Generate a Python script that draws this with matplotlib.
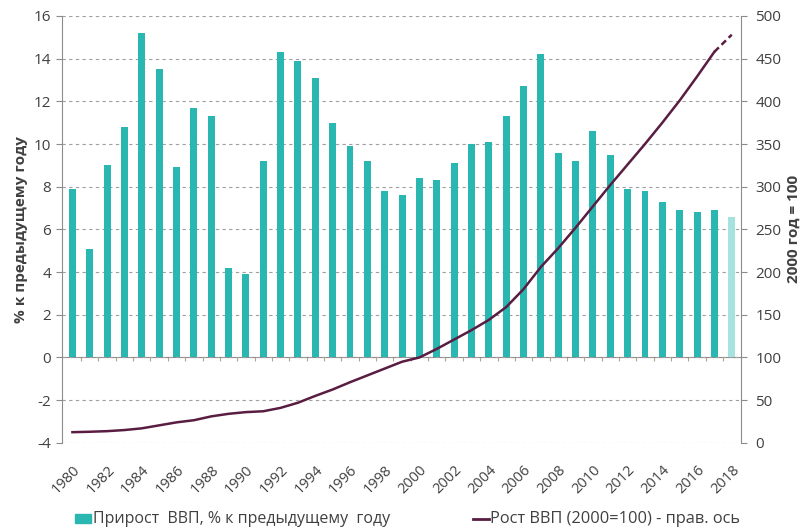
import matplotlib.pyplot as plt
import numpy as np

years = list(range(1980, 2019))
growth = [7.9, 5.1, 9.0, 10.8, 15.2, 13.5, 8.9, 11.7, 11.3, 4.2,
          3.9, 9.2, 14.3, 13.9, 13.1, 11.0, 9.9, 9.2, 7.8, 7.6,
          8.4, 8.3, 9.1, 10.0, 10.1, 11.3, 12.7, 14.2, 9.6, 9.2,
          10.6, 9.5, 7.9, 7.8, 7.3, 6.9, 6.8, 6.9, 6.6]
index = [12.5, 13, 13.7, 15, 17, 20.5, 24, 26.5, 31, 34,
         36, 37, 41, 47, 55, 62.5, 71, 79, 87, 95,
         100, 110, 121, 132, 144, 159, 180, 206, 228, 252,
         277, 302, 326, 350, 375, 401, 429, 458, 478]

teal = '#2ab7b1'
teal_light = '#a6e3df'
wine = '#5a1d42'
grey = '#8c8c8c'
txt = '#404040'

plt.rcParams['font.family'] = ['Open Sans', 'DejaVu Sans']
plt.rcParams['axes.unicode_minus'] = False

fig = plt.figure(figsize=(8.02, 5.31), dpi=100)
ax = fig.add_axes([0.0773, 0.166, 0.847, 0.804])

x = np.arange(len(years))
colors = [teal] * (len(years) - 1) + [teal_light]
ax.bar(x, growth, width=0.4, color=colors, zorder=2)

ax.set_ylim(-4, 16)
ax.set_yticks(range(-4, 17, 2))
ax.set_xlim(-0.6, len(years) - 0.45)
ax.yaxis.grid(True, linestyle=(0, (3, 3)), color='#a0a0a0', linewidth=0.8, zorder=0)

for s in ['top', 'bottom']:
    ax.spines[s].set_visible(False)
ax.spines['left'].set_color(grey)
ax.spines['right'].set_visible(False)

ax.set_xticks(x[::2])
ax.set_xticklabels([str(y) for y in years[::2]], rotation=45, ha='right',
                   rotation_mode='anchor', fontsize=10.5, color=txt)
ax.tick_params(axis='x', length=0, pad=14)
ax.tick_params(axis='y', length=4, color=grey, labelsize=11, labelcolor=txt, pad=4)

# axis line at zero with ticks between bars
sec = ax.secondary_xaxis(0.2)
sec.set_xticks(x[:-1] + 0.5)
sec.set_xticklabels([])
sec.tick_params(length=3, color='#c0a080')
sec.spines['bottom'].set_color(grey)

ax2 = ax.twinx()
ax2.set_ylim(0, 500)
ax2.set_yticks(range(0, 501, 50))
ax2.plot(x[:-1], index[:-1], color=wine, linewidth=1.8, zorder=3)
ax2.plot(x[-2:], index[-2:], color=wine, linewidth=1.8, linestyle=(0, (2.5, 1.5)), zorder=3)
for s in ['top', 'bottom', 'left']:
    ax2.spines[s].set_visible(False)
ax2.spines['right'].set_color(grey)
ax2.tick_params(axis='y', length=4, color=grey, labelsize=11, labelcolor=txt, pad=6)

ax.set_ylabel('% к предыдущему году', fontsize=11, fontweight='bold', color=txt, labelpad=4)
ax2.set_ylabel('2000 год = 100', fontsize=11, fontweight='bold', color=txt, labelpad=4)

# legend
fig.patches.append(plt.Rectangle((75 / 802, 1 - 523 / 531), 16 / 802, 9 / 531,
                                 transform=fig.transFigure, color=teal))
fig.text(93 / 802, 1 - 519 / 531, 'Прирост  ВВП, % к предыдущему  году',
         fontsize=11.5, color=txt, va='center')
fig.lines.append(plt.Line2D([473 / 802, 489 / 802], [1 - 519 / 531, 1 - 519 / 531],
                            transform=fig.transFigure, color=wine, linewidth=2))
fig.text(490 / 802, 1 - 519 / 531, 'Рост ВВП (2000=100) - прав. ось',
         fontsize=11.8, color=txt, va='center')

fig.savefig('out.png', dpi=100)
